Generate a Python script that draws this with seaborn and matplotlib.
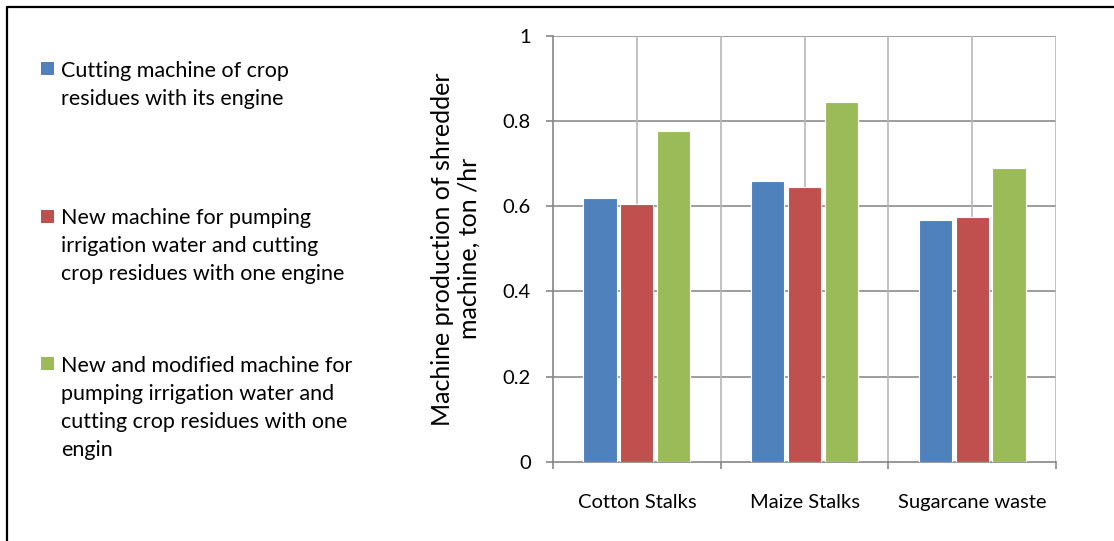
import matplotlib
matplotlib.use("Agg")
import matplotlib.pyplot as plt
from matplotlib.patches import Rectangle
from matplotlib.lines import Line2D
from matplotlib.ticker import FixedLocator
import seaborn as sns
import pandas as pd
import numpy as np

# Residue types on the x axis
categories = ["Cotton Stalks", "Maize Stalks", "Sugarcane waste"]

# Machine production (ton/hr) per machine type
series_names = [
    "Cutting machine of crop\nresidues with its engine",
    "New machine for pumping\nirrigation water and cutting\ncrop residues with one engine",
    "New and modified machine for\npumping irrigation water and\ncutting crop residues with one\nengin",
]
cutting_machine = [0.62, 0.66, 0.567]
new_machine = [0.606, 0.645, 0.575]
modified_machine = [0.776, 0.845, 0.689]

y_ticks = [0, 0.2, 0.4, 0.6, 0.8, 1]
y_tick_labels = ["0", "0.2", "0.4", "0.6", "0.8", "1"]

colors = ["#4F81BD", "#C0504D", "#9BBB59"]

sns.set_theme(style="white")
plt.rcParams["font.family"] = ["Lato", "DejaVu Sans"]

rows = []
for name, vals in zip(series_names, [cutting_machine, new_machine, modified_machine]):
    for cat, v in zip(categories, vals):
        rows.append({"category": cat, "machine": name, "value": v})
df = pd.DataFrame(rows)

W, H = 1114, 541
fig = plt.figure(figsize=(W / 100, H / 100), dpi=100)
ax = fig.add_axes([553 / W, 1 - 462 / H, (1056 - 553) / W, (462 - 35.7) / H])

sns.barplot(
    data=df, x="category", y="value", hue="machine",
    order=categories, hue_order=series_names, palette=colors,
    width=0.66, gap=0.1, edgecolor="white", linewidth=0.8,
    saturation=1, legend=False, ax=ax, zorder=3,
)

n = len(categories)
ax.set_xlim(-0.5, n - 0.5)
ax.set_ylim(0, 1)
ax.set_xlabel("")
ax.set_ylabel("Machine production of shredder\nmachine, ton /hr", fontsize=18,
              color="#000000", linespacing=1.2)
ax.yaxis.set_label_coords(-0.143, 0.5)

ax.set_yticks(y_ticks)
ax.set_yticklabels(y_tick_labels)
ax.set_xticks(range(n))
ax.set_xticklabels(categories)
ax.xaxis.set_minor_locator(FixedLocator([i - 0.5 for i in range(n + 1)]))

for side in ["top", "right"]:
    ax.spines[side].set_visible(False)
for side in ["left", "bottom"]:
    ax.spines[side].set_color("#868686")
    ax.spines[side].set_linewidth(1.2)

ax.tick_params(axis="y", which="major", direction="out", length=5, width=1.2,
               color="#868686", labelsize=14.5, pad=11, left=True)
ax.tick_params(axis="x", which="major", length=0, labelsize=14.5, pad=23)
ax.tick_params(axis="x", which="minor", direction="out", length=5, width=1.2,
               color="#868686", bottom=True)
for lab in ax.get_xticklabels() + ax.get_yticklabels():
    lab.set_color("#000000")

# gridlines: horizontal at value ticks, vertical at category centres and boundaries
ax.grid(False)
for yv in y_ticks[1:]:
    ax.axhline(yv, color="#8C8C8C", linewidth=1.2, zorder=1)
for xv in np.arange(0, n, 0.5):
    ax.axvline(xv, color="#B8B8B8", linewidth=1.2, zorder=2)

# legend panel on the left
entry_tops = [65, 212.5, 360]
for name, col, top in zip(series_names, colors, entry_tops):
    fig.patches.append(Rectangle((41 / W, 1 - (top + 10) / H), 13 / W, 13 / H,
                                 transform=fig.transFigure, facecolor=col,
                                 edgecolor="none"))
    fig.text(61 / W, 1 - (top - 4) / H, name, fontsize=15.5, va="top", ha="left",
             linespacing=1.5, color="#000000")

# outer frame
fig.add_artist(Line2D([7 / W, 7 / W], [0, 1 - 7 / H], transform=fig.transFigure,
                      color="black", linewidth=1.6))
fig.add_artist(Line2D([7 / W, 1], [1 - 7 / H, 1 - 7 / H], transform=fig.transFigure,
                      color="black", linewidth=1.6))

fig.savefig("out.png", dpi=100)
